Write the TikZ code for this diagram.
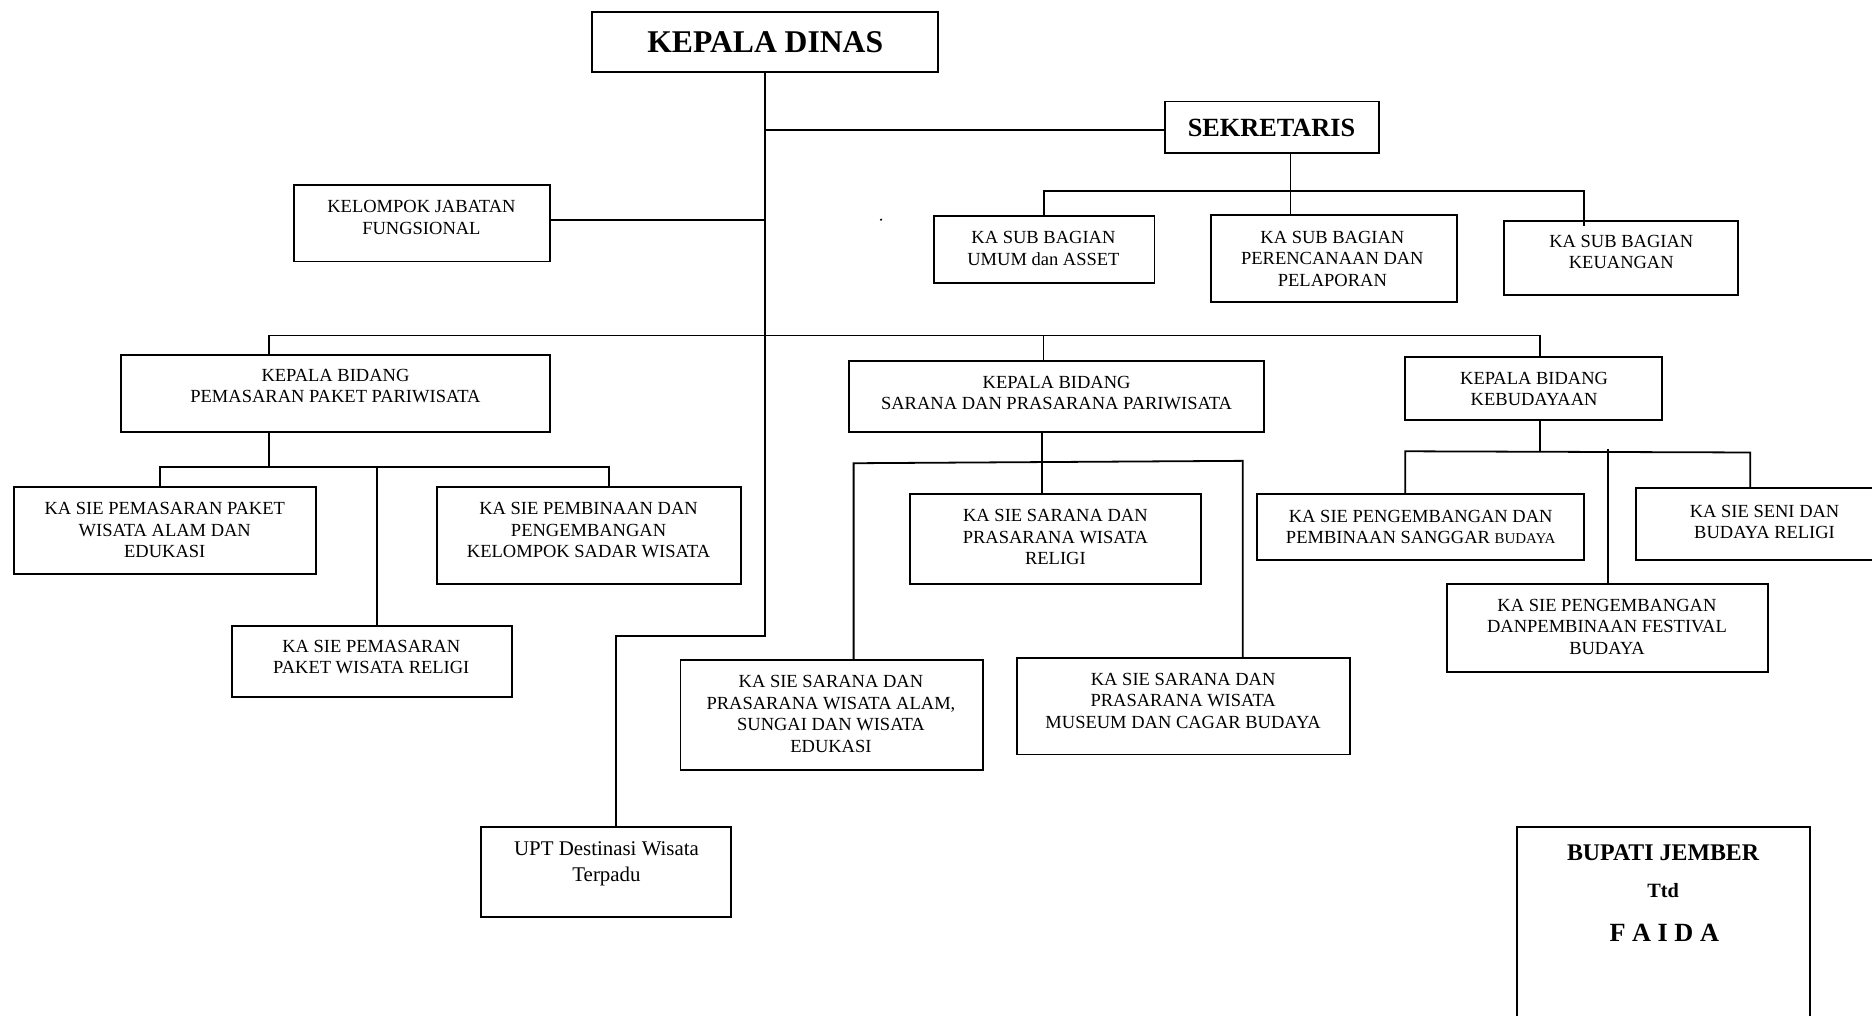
\documentclass[tikz,border=0pt]{standalone}
\usepackage{fontspec}
\setmainfont{Liberation Serif}
\usetikzlibrary{positioning,fit}

\begin{document}
\begin{tikzpicture}[x=1pt, y=-1pt,
   unit/.style={draw, line width=1.6pt, inner sep=0pt},
   txt/.style={align=center, inner sep=0pt, font=\fontsize{15.5}{18}\selectfont},
   link/.style={line width=1.5pt}]
   \useasboundingbox (0,0) rectangle (1568,851);

   % Kepala Dinas dan Sekretaris
   \node[unit, fit={(496,10) (786,60)}] (kd) {};
   \node[txt, font=\fontsize{26.5}{30}\selectfont\bfseries] (kd-t) at (641,35) {KEPALA DINAS};
   \node[unit, fit={(976,85) (1155,128)}] (sek) {};
   \node[txt, font=\fontsize{22}{26}\selectfont\bfseries] (sek-t) at (1065,107) {SEKRETARIS};

   % Kelompok Jabatan Fungsional
   \node[unit, fit={(246,155) (461,219)}] (kjf) {};
   \node[txt] (kjf-t) at (353,182) {KELOMPOK JABATAN\\FUNGSIONAL};
   \fill (738,184) circle (1pt);

   % Sub Bagian
   \node[unit, fit={(782,181) (967,237)}] (sbu) {};
   \node[txt] (sbu-t) at (874,208) {KA SUB BAGIAN\\UMUM dan ASSET};
   \node[unit, fit={(1014,180) (1220,253)}] (sbp) {};
   \node[txt] (sbp-t) at (1116,216.5) {KA SUB BAGIAN\\PERENCANAAN DAN\\PELAPORAN};
   \node[unit, fit={(1260,185) (1456,247)}] (sbk) {};
   \node[txt] (sbk-t) at (1358,211) {KA SUB BAGIAN\\KEUANGAN};

   % Kepala Bidang
   \node[unit, fit={(101,297) (461,362)}] (kbp) {};
   \node[txt] (kbp-t) at (281,323.5) {KEPALA BIDANG\\PEMASARAN PAKET PARIWISATA};
   \node[unit, fit={(711,302) (1059,362)}] (kbs) {};
   \node[txt] (kbs-t) at (885,329) {KEPALA BIDANG\\SARANA DAN PRASARANA PARIWISATA};
   \node[unit, fit={(1177,299) (1392,352)}] (kbk) {};
   \node[txt] (kbk-t) at (1285,326) {KEPALA BIDANG\\KEBUDAYAAN};

   % Seksi Pemasaran
   \node[unit, fit={(12,408) (265,481)}] (ksa) {};
   \node[txt] (ksa-t) at (138,444) {KA SIE PEMASARAN PAKET\\WISATA ALAM DAN\\EDUKASI};
   \node[unit, fit={(366,408) (621,489)}] (ksb) {};
   \node[txt] (ksb-t) at (493,444) {KA SIE PEMBINAAN DAN\\PENGEMBANGAN\\KELOMPOK SADAR WISATA};
   \node[unit, fit={(194,524) (429,584)}] (ksr) {};
   \node[txt] (ksr-t) at (311,550.5) {KA SIE PEMASARAN\\PAKET WISATA RELIGI};

   % Seksi Sarana dan Prasarana
   \node[unit, fit={(762,414) (1006,489)}] (ssr) {};
   \node[txt] (ssr-t) at (884,450) {KA SIE SARANA DAN\\PRASARANA WISATA\\RELIGI};
   \node[unit, fit={(570,553) (823,645)}] (ssa) {};
   \node[txt] (ssa-t) at (696,598) {KA SIE SARANA DAN\\PRASARANA WISATA ALAM,\\SUNGAI DAN WISATA\\EDUKASI};
   \node[unit, fit={(852,551) (1131,632)}] (ssm) {};
   \node[txt] (ssm-t) at (991,587) {KA SIE SARANA DAN\\PRASARANA WISATA\\MUSEUM DAN CAGAR BUDAYA};

   % Seksi Kebudayaan
   \node[unit, fit={(1053,414) (1327,469)}] (sps) {};
   \node[txt] (sps-t) at (1190,441.5) {KA SIE PENGEMBANGAN DAN\\PEMBINAAN SANGGAR {\fontsize{12.5}{18}\selectfont BUDAYA}};
   \node[unit, fit={(1370,409) (1580,469)}] (ssb) {};
   \node[txt] (ssb-t) at (1478,437) {KA SIE SENI DAN\\BUDAYA RELIGI};
   \node[unit, fit={(1212,489) (1481,563)}] (spf) {};
   \node[txt] (spf-t) at (1346,525) {KA SIE PENGEMBANGAN\\DANPEMBINAAN FESTIVAL\\BUDAYA};

   % UPT
   \node[unit, fit={(403,693) (612,768)}] (upt) {};
   \node[txt, font=\fontsize{17.5}{21}\selectfont] (upt-t) at (508,723.5) {UPT Destinasi Wisata\\Terpadu};

   % Bupati
   \node[unit, fit={(1271,693) (1516,870)}] (bup) {};
   \node[txt, font=\fontsize{20}{24}\selectfont\bfseries] (bup-a) at (1393,714) {BUPATI JEMBER};
   \node[txt, font=\fontsize{17}{20}\selectfont\bfseries] (bup-b) at (1393,746) {Ttd};
   \node[txt, font=\fontsize{22}{26}\selectfont\bfseries] (bup-c) at (1394,781) {F A I D A};

   % junctions
   \coordinate (sekj) at (641,109);
   \coordinate (kjfj) at (641,184);
   \coordinate (upj) at (516,533);
   \coordinate (sj) at (1081,160);
   \coordinate (kr) at (1327,160);
   \coordinate (j1) at (225,281);
   \coordinate (j2) at (874,281);
   \coordinate (j3) at (1290,281);
   \coordinate (p0) at (225,391);
   \coordinate (p1) at (134,391);
   \coordinate (p2) at (316,391);
   \coordinate (p3) at (510,391);
   \coordinate (s0) at (873,387);
   \coordinate (s1) at (715,388);
   \coordinate (s2) at (1041,386);
   \coordinate (b0) at (1290,378);
   \coordinate (b1) at (1177,378);
   \coordinate (b2) at (1466,379);
   \coordinate (b3) at (1347,376);

   % connectors
   \draw[link] (kd.south) |- (upj) -- (upj |- upt.north);
   \draw[link] (sekj) -- (sekj -| sek.west);
   \draw[link] (kjfj) -- (kjfj -| kjf.east);
   \draw[link] (sj |- sek.south) -- (sj |- sbp.north);
   \draw[link] (sbu.north) |- (kr) -- ([yshift=-5pt]kr |- sbk.north);
   \draw[link] (j1 |- kbp.north) -- (j1) -- (j3) -- (j3 |- kbk.north);
   \draw[link] (j2) -- (j2 |- kbs.north);
   \draw[link] (p0 |- kbp.south) -- (p0);
   \draw[link] (p1 |- ksa.north) -- (p1) -- (p3) -- (p3 |- ksb.north);
   \draw[link] (p2) -- (p2 |- ksr.north);
   \draw[link] (s0 |- kbs.south) -- (s0 |- ssr.north);
   \draw[link] (s1 |- ssa.north) -- (s1) -- (s2) -- (s2 |- ssm.north);
   \draw[link] (b0 |- kbk.south) -- (b0);
   \draw[link] (b1 |- sps.north) -- (b1) -- (b2) -- (b2 |- ssb.north);
   \draw[link] (b3) -- (b3 |- spf.north);

\end{tikzpicture}
\end{document}
